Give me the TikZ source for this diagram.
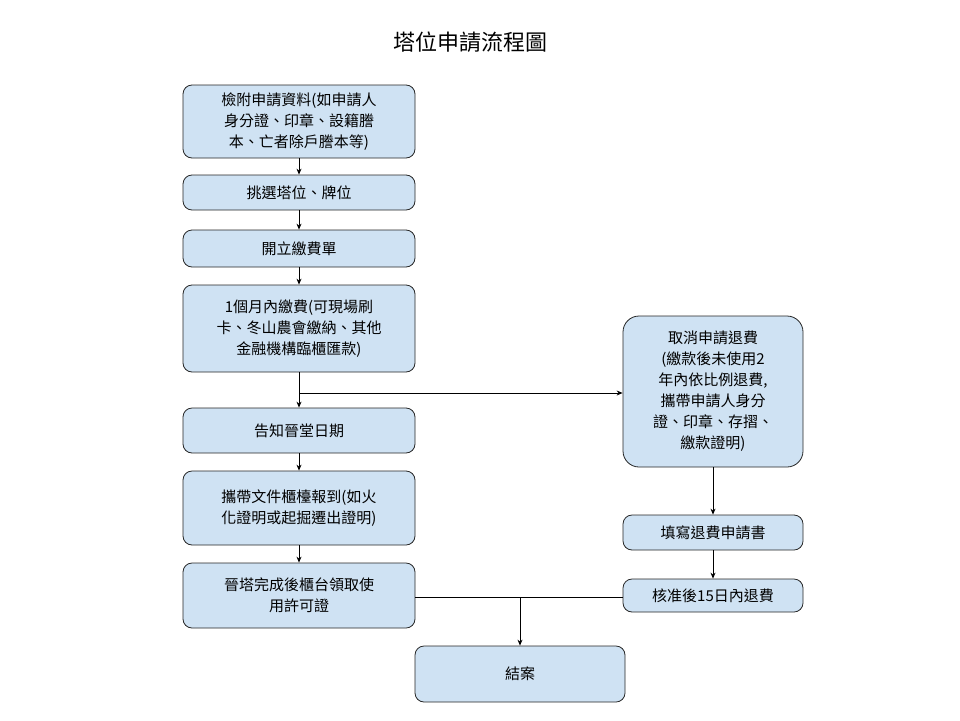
\documentclass[tikz,border=0pt]{standalone}
\usepackage{fontspec}
\newfontfamily\cjk{Noto Sans CJK TC}
\usetikzlibrary{arrows.meta}
\definecolor{boxfill}{HTML}{CFE2F3}
\begin{document}
\begin{tikzpicture}[x=1pt,y=-1pt,
  box/.style={draw=black!85,fill=boxfill,rounded corners=9pt,line width=0.8pt,align=center,font=\cjk\fontsize{15}{21}\selectfont,inner sep=0pt},
  arr/.style={-{Stealth[length=6pt,width=5pt]},line width=0.8pt}]
\useasboundingbox (0,0) rectangle (960,720);
\node[font=\cjk\fontsize{22}{26}\selectfont] (title) at (470,42) {塔位申請流程圖};
\node[box,minimum width=232pt,minimum height=73pt] (b1) at (299,121.5) {檢附申請資料(如申請人\\身分證、印章、設籍謄\\本、亡者除戶謄本等)};
\node[box,minimum width=232pt,minimum height=35pt] (b2) at (299,192.5) {挑選塔位、牌位};
\node[box,minimum width=232pt,minimum height=37pt] (b3) at (299,248.5) {開立繳費單};
\node[box,minimum width=232pt,minimum height=87pt] (b4) at (299,328.5) {1個月內繳費(可現場刷\\卡、冬山農會繳納、其他\\金融機構臨櫃匯款)};
\node[box,minimum width=232pt,minimum height=45pt] (b5) at (299,430.5) {告知晉堂日期};
\node[box,minimum width=232pt,minimum height=74pt] (b6) at (299,508) {攜帶文件櫃檯報到(如火\\化證明或起掘遷出證明)};
\node[box,minimum width=232pt,minimum height=65pt] (b7) at (299,595.5) {晉塔完成後櫃台領取使\\用許可證};
\node[box,minimum width=180pt,minimum height=151pt,rounded corners=16pt] (r1) at (713,391.5) {取消申請退費\\(繳款後未使用2\\年內依比例退費,\\攜帶申請人身分\\證、印章、存摺、\\繳款證明)};
\node[box,minimum width=180pt,minimum height=35pt] (r2) at (713,532.5) {填寫退費申請書};
\node[box,minimum width=180pt,minimum height=33pt] (r3) at (713,595.5) {核准後15日內退費};
\node[box,minimum width=210pt,minimum height=56pt] (end) at (520,674) {結案};
\coordinate (j1) at (299,393);
\coordinate (j2) at (520,597);
\draw[arr] (b1) -- (b2);
\draw[arr] (b2) -- (b3);
\draw[arr] (b3) -- (b4);
\draw[arr] (b4) -- (b5);
\draw[arr] (j1) -- (r1.west |- j1);
\draw[arr] (b5) -- (b6);
\draw[arr] (b6) -- (b7);
\draw[arr] (r1) -- (r2);
\draw[arr] (r2) -- (r3);
\draw[line width=0.8pt] (b7.east |- j2) -- (r3.west |- j2);
\draw[arr] (j2) -- (end);
\end{tikzpicture}
\end{document}
